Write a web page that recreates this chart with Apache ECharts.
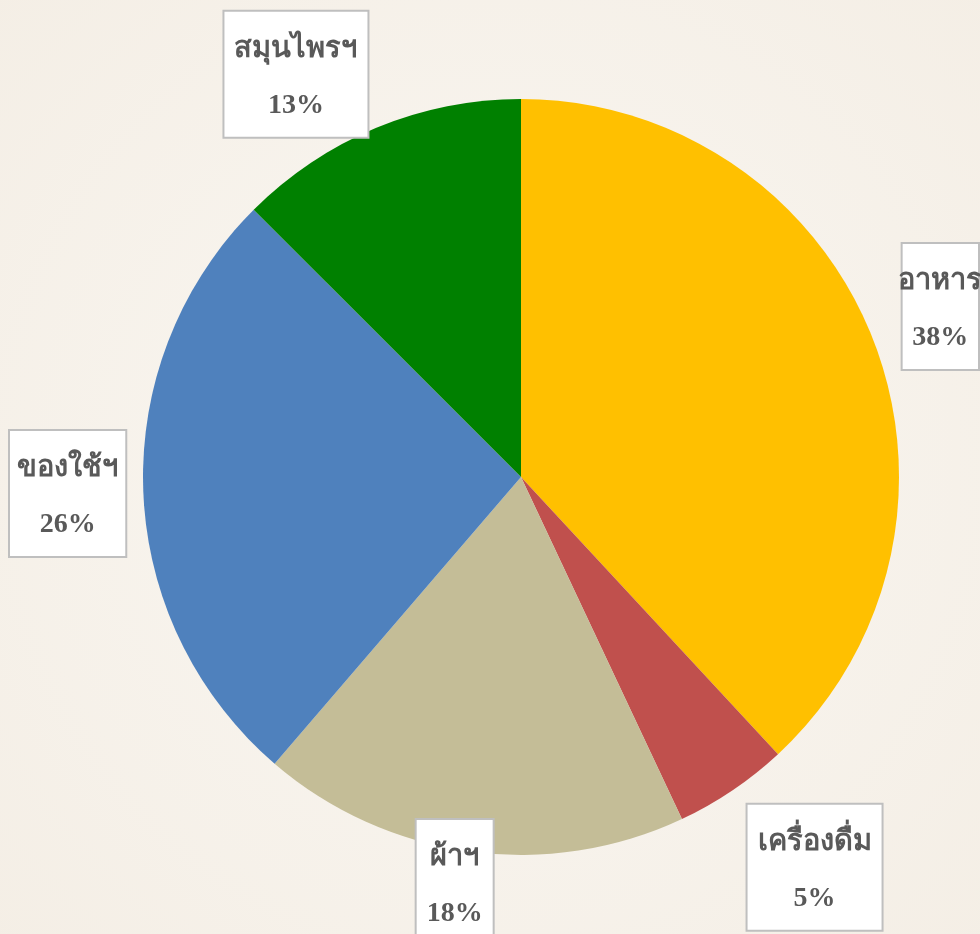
<!DOCTYPE html>
<html>
<head>
<meta charset="utf-8">
<style>
  html, body { margin: 0; padding: 0; }
  #main { width: 980px; height: 934px; }
</style>
<script src="https://cdn.jsdelivr.net/npm/echarts@6/dist/echarts.min.js"></script>
</head>
<body>
<div id="main"></div>
<script>
// categories and shares (%)
var categories = ['อาหาร', 'เครื่องดื่ม', 'ผ้าฯ', 'ของใช้ฯ', 'สมุนไพรฯ'];
var shares = [38.1, 4.9, 18.3, 26.2, 12.5];
var sliceColors = ['#FFC000', '#C0504D', '#C4BD97', '#4F81BD', '#008000'];

// nudges for the label boxes, per slice
var labelShift = [[8, -26], [0, 62], [30, 14], [0, 2], [3, -37]];

var chart = echarts.init(document.getElementById('main'));

var pieData = categories.map(function (name, i) {
  return { name: name, value: shares[i], itemStyle: { color: sliceColors[i] } };
});

var option = {
  backgroundColor: {
    type: 'radial', x: 0.5, y: 0.5, r: 0.75,
    colorStops: [{ offset: 0, color: '#FAF7F2' }, { offset: 1, color: '#F4EEE5' }]
  },
  series: [{
    type: 'pie',
    center: [521, 477],
    radius: [0, 378],
    startAngle: 90,
    clockwise: true,
    data: pieData,
    itemStyle: { borderWidth: 0 },
    label: {
      show: true,
      position: 'outside',
      overflow: 'none',
      formatter: function (p) {
        return '{n|' + p.name + '}\n{v|' + Math.round(p.value) + '%}';
      },
      backgroundColor: '#FFFFFF',
      borderColor: '#BFBFBF',
      borderWidth: 2,
      padding: [10, 10, 3, 10],
      rich: {
        n: { fontFamily: 'Liberation Serif', fontWeight: 'bold', fontSize: 29, color: '#595959', lineHeight: 56, align: 'center' },
        v: { fontFamily: 'Liberation Serif', fontWeight: 'bold', fontSize: 28, color: '#595959', lineHeight: 56, align: 'center' }
      }
    },
    labelLine: { show: false, length: 18, length2: 0 },
    labelLayout: function (params) {
      var s = labelShift[params.dataIndex];
      return { dx: s[0], dy: s[1] };
    },
    emphasis: { disabled: true }
  }]
};

chart.setOption(option);
</script>
</body>
</html>
